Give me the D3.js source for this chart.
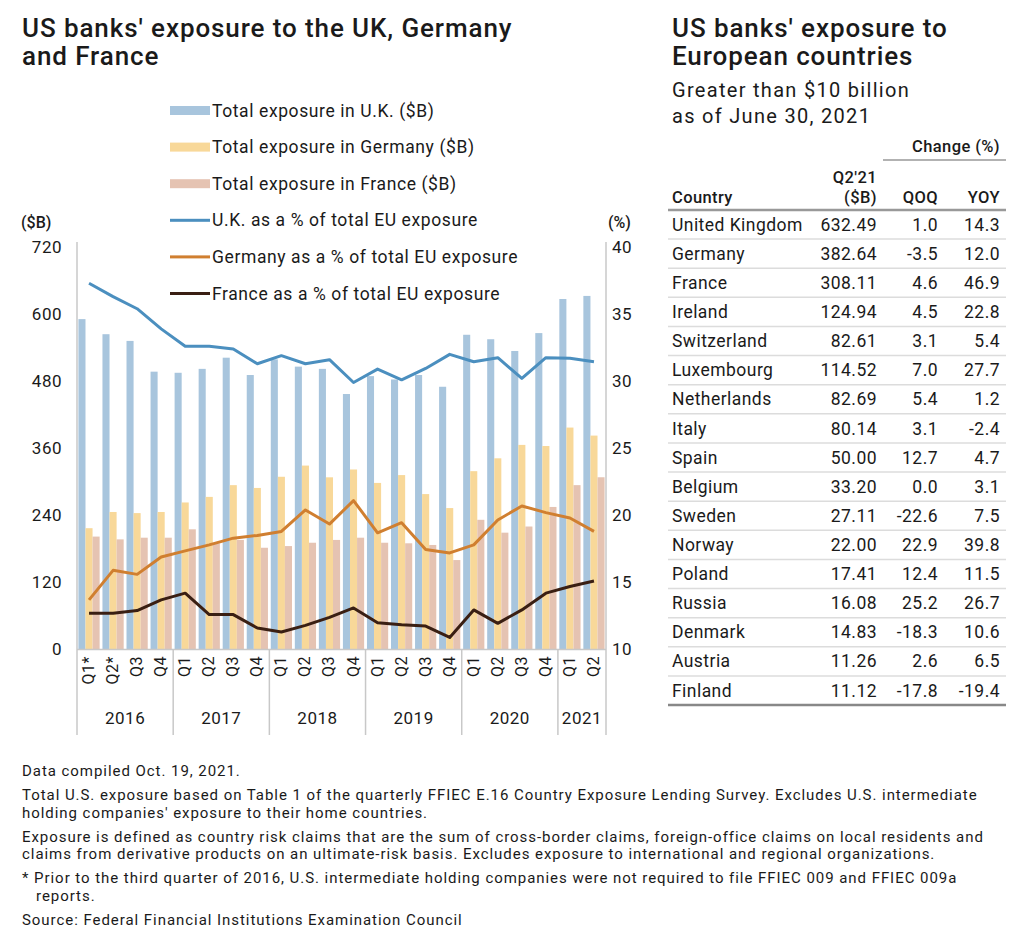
<!DOCTYPE html>
<html>
<head>
<meta charset="utf-8">
<script src="https://cdn.jsdelivr.net/npm/d3@7"></script>
<style>
  body { margin: 0; background: #fff; }
  svg text { font-family: Roboto, "Noto Sans", sans-serif; fill: #1a1a1a; }
</style>
</head>
<body>
<div id="chart"></div>
<script>
// quarters on the x axis
const quarterLabels = ["Q1*", "Q2*", "Q3", "Q4", "Q1", "Q2", "Q3", "Q4", "Q1", "Q2", "Q3", "Q4",
    "Q1", "Q2", "Q3", "Q4", "Q1", "Q2", "Q3", "Q4", "Q1", "Q2"];
const years = ["2016", "2017", "2018", "2019", "2020", "2021"];
const quartersPerYear = [4, 4, 4, 4, 4, 2];

// exposure, $B
const ukBn = [591, 564, 552, 497, 495, 502, 522, 491, 519, 506, 502, 457, 489, 483, 491, 470, 563, 555, 534, 566, 627, 632.49];
const deBn = [217, 246, 244, 246, 263, 273, 294, 289, 309, 329, 308, 322, 298, 312, 278, 253, 319, 342, 366, 364, 397, 382.64];
const frBn = [202, 197, 200, 200, 215, 190, 196, 182, 185, 191, 196, 200, 191, 190, 187, 160, 232, 209, 220, 255, 294, 308.11];

// share of total EU exposure, %
const ukPct = [37.3, 36.3, 35.4, 33.9, 32.6, 32.6, 32.4, 31.3, 31.9, 31.3, 31.6, 29.9, 30.9, 30.1, 30.95, 32.0, 31.45, 31.75, 30.2, 31.75, 31.7, 31.45];
const dePct = [13.7, 15.9, 15.6, 16.9, 17.35, 17.8, 18.3, 18.5, 18.8, 20.4, 19.35, 21.1, 18.7, 19.45, 17.45, 17.2, 17.8, 19.65, 20.7, 20.2, 19.8, 18.8];
const frPct = [12.7, 12.7, 12.9, 13.7, 14.2, 12.6, 12.6, 11.6, 11.3, 11.8, 12.4, 13.1, 12.0, 11.85, 11.75, 10.9, 12.95, 11.95, 12.95, 14.2, 14.7, 15.1];

const leftTicks = [0, 120, 240, 360, 480, 600, 720];
const rightTicks = [10, 15, 20, 25, 30, 35, 40];

// table
const countries = ["United Kingdom", "Germany", "France", "Ireland", "Switzerland", "Luxembourg", "Netherlands",
    "Italy", "Spain", "Belgium", "Sweden", "Norway", "Poland", "Russia", "Denmark", "Austria", "Finland"];
const q2Values = ["632.49", "382.64", "308.11", "124.94", "82.61", "114.52", "82.69", "80.14", "50.00", "33.20",
    "27.11", "22.00", "17.41", "16.08", "14.83", "11.26", "11.12"];
const qoq = ["1.0", "-3.5", "4.6", "4.5", "3.1", "7.0", "5.4", "3.1", "12.7", "0.0", "-22.6", "22.9", "12.4",
    "25.2", "-18.3", "2.6", "-17.8"];
const yoy = ["14.3", "12.0", "46.9", "22.8", "5.4", "27.7", "1.2", "-2.4", "4.7", "3.1", "7.5", "39.8", "11.5",
    "26.7", "10.6", "6.5", "-19.4"];

const footnotes = [
    ["Data compiled Oct. 19, 2021."],
    ["Total U.S. exposure based on Table 1 of the quarterly FFIEC E.16 Country Exposure Lending Survey. Excludes U.S. intermediate",
     "holding companies' exposure to their home countries."],
    ["Exposure is defined as country risk claims that are the sum of cross-border claims, foreign-office claims on local residents and",
     "claims from derivative products on an ultimate-risk basis. Excludes exposure to international and regional organizations."],
    ["* Prior to the third quarter of 2016, U.S. intermediate holding companies were not required to file FFIEC 009 and FFIEC 009a",
     "   reports."],
    ["Source: Federal Financial Institutions Examination Council"]
];

const colors = {
    ukBar: "#a8c5dd", deBar: "#f8d899", frBar: "#e5c3b2",
    ukLine: "#4b8fbf", deLine: "#d07f30", frLine: "#3a1f13"
};

const width = 1032, height = 946;
const svg = d3.select("#chart").append("svg")
    .attr("width", width)
    .attr("height", height);

// titles
const titleStyle = t => t.attr("font-size", 26).attr("font-weight", 500).attr("letter-spacing", 0.9);
svg.append("text").attr("x", 22).attr("y", 37).call(titleStyle).text("US banks' exposure to the UK, Germany");
svg.append("text").attr("x", 22).attr("y", 65).call(titleStyle).text("and France");
svg.append("text").attr("x", 672).attr("y", 37).call(titleStyle).text("US banks' exposure to");
svg.append("text").attr("x", 672).attr("y", 65).call(titleStyle).text("European countries");
svg.append("text").attr("x", 672).attr("y", 97).attr("font-size", 20).attr("letter-spacing", 1.3).attr("fill", "#333")
    .text("Greater than $10 billion");
svg.append("text").attr("x", 672).attr("y", 123).attr("font-size", 20).attr("letter-spacing", 1.3).attr("fill", "#333")
    .text("as of June 30, 2021");

// ---------- combo chart ----------
const plotLeft = 77, plotRight = 606, plotTop = 247, plotBottom = 649.5;
const idx = d3.range(quarterLabels.length);

const x0 = d3.scaleBand().domain(idx).range([plotLeft, plotRight]).padding(0);
const x1 = d3.scaleBand().domain(["uk", "de", "fr"]).range([0, x0.bandwidth()]).paddingOuter(0.2).paddingInner(0);
const y = d3.scaleLinear().domain([0, 720]).range([plotBottom, plotTop]);
const y2 = d3.scaleLinear().domain([10, 40]).range([plotBottom, plotTop]);

const gridColor = "#c8c8c8";

// bars
const barSeries = [
    { key: "uk", values: ukBn, color: colors.ukBar },
    { key: "de", values: deBn, color: colors.deBar },
    { key: "fr", values: frBn, color: colors.frBar }
];
barSeries.forEach(s => {
    svg.append("g").selectAll("rect")
        .data(s.values)
        .join("rect")
        .attr("x", (d, i) => x0(i) + x1(s.key))
        .attr("y", d => y(d))
        .attr("width", x1.bandwidth())
        .attr("height", d => y(0) - y(d))
        .attr("fill", s.color);
});

// lines
const lineSeries = [
    { values: ukPct, color: colors.ukLine },
    { values: dePct, color: colors.deLine },
    { values: frPct, color: colors.frLine }
];
const line = d3.line()
    .x((d, i) => x0(i) + x0.bandwidth() / 2)
    .y(d => y2(d));
lineSeries.forEach(s => {
    svg.append("path")
        .datum(s.values)
        .attr("d", line)
        .attr("fill", "none")
        .attr("stroke", s.color)
        .attr("stroke-width", 3)
        .attr("stroke-linejoin", "round");
});

// axes frame
const axisBottom = 735;
svg.append("line").attr("x1", plotLeft).attr("x2", plotRight).attr("y1", plotBottom).attr("y2", plotBottom)
    .attr("stroke", gridColor).attr("stroke-width", 1.5);
svg.append("line").attr("x1", plotLeft).attr("x2", plotLeft).attr("y1", plotTop - 5).attr("y2", axisBottom)
    .attr("stroke", gridColor).attr("stroke-width", 1.5);
svg.append("line").attr("x1", plotRight).attr("x2", plotRight).attr("y1", plotTop - 5).attr("y2", axisBottom)
    .attr("stroke", gridColor).attr("stroke-width", 1.5);

// y axes
svg.append("g")
    .attr("transform", `translate(${plotLeft - 15},0)`)
    .call(d3.axisLeft(y).tickValues(leftTicks).tickSize(0).tickPadding(0))
    .call(g => g.select(".domain").remove())
    .call(g => g.selectAll("text").attr("font-size", 17).attr("letter-spacing", 0.5).attr("fill", "#1a1a1a")
        .style("font-family", "Roboto, sans-serif"));
svg.append("g")
    .attr("transform", `translate(${plotRight + 6},0)`)
    .call(d3.axisRight(y2).tickValues(rightTicks).tickSize(0).tickPadding(0))
    .call(g => g.select(".domain").remove())
    .call(g => g.selectAll("text").attr("font-size", 17).attr("letter-spacing", 0.5).attr("fill", "#1a1a1a")
        .style("font-family", "Roboto, sans-serif"));
svg.append("text").attr("x", 21).attr("y", 228).attr("font-size", 16).attr("font-weight", 500).text("($B)");
svg.append("text").attr("x", 608).attr("y", 228).attr("font-size", 16).attr("font-weight", 500).text("(%)");

// quarter labels (rotated)
svg.append("g").selectAll("text")
    .data(quarterLabels)
    .join("text")
    .attr("transform", (d, i) => `translate(${x0(i) + x0.bandwidth() / 2 + 5},656) rotate(-90)`)
    .attr("text-anchor", "end")
    .attr("font-size", 16)
    .attr("letter-spacing", 0.5)
    .text(d => d);

// year labels and separators
let start = 0;
years.forEach((yr, j) => {
    const n = quartersPerYear[j];
    const xa = x0(start), xb = x0(start + n - 1) + x0.bandwidth();
    svg.append("text").attr("x", (xa + xb) / 2).attr("y", 724)
        .attr("text-anchor", "middle").attr("font-size", 17).attr("letter-spacing", 0.5).text(yr);
    if (j > 0) {
        svg.append("line").attr("x1", xa).attr("x2", xa).attr("y1", plotBottom).attr("y2", axisBottom)
            .attr("stroke", gridColor).attr("stroke-width", 1.5);
    }
    start += n;
});

// legend
const legendItems = [
    { label: "Total exposure in U.K. ($B)", color: colors.ukBar, type: "bar" },
    { label: "Total exposure in Germany ($B)", color: colors.deBar, type: "bar" },
    { label: "Total exposure in France ($B)", color: colors.frBar, type: "bar" },
    { label: "U.K. as a % of total EU exposure", color: colors.ukLine, type: "line" },
    { label: "Germany as a % of total EU exposure", color: colors.deLine, type: "line" },
    { label: "France as a % of total EU exposure", color: colors.frLine, type: "line" }
];
const legend = svg.append("g").selectAll("g")
    .data(legendItems)
    .join("g")
    .attr("transform", (d, i) => `translate(170,${110.5 + i * 36.6})`);
legend.append("rect")
    .attr("x", 0).attr("width", 40)
    .attr("y", d => d.type === "bar" ? -4.5 : -1.5)
    .attr("height", d => d.type === "bar" ? 9 : 3)
    .attr("fill", d => d.color);
legend.append("text")
    .attr("x", 42).attr("dy", "0.35em").attr("font-size", 17.5).attr("letter-spacing", 0.6)
    .text(d => d.label);

// ---------- table ----------
const colCountry = 672, colQ2 = 877, colQoq = 938, colYoy = 1000;
const rowY = d3.scaleBand().domain(countries).range([210, 705]);

svg.append("text").attr("x", colYoy).attr("y", 146).attr("dy", "0.35em").attr("text-anchor", "end")
    .attr("font-size", 16.5).attr("letter-spacing", 0.4).attr("font-weight", 500).text("Change (%)");
svg.append("line").attr("x1", 883).attr("x2", 1006).attr("y1", 160).attr("y2", 160)
    .attr("stroke", "#999").attr("stroke-width", 1.5);

const head = svg.append("g").attr("font-size", 16.5).attr("letter-spacing", 0.4).attr("font-weight", 500);
head.append("text").attr("x", colCountry).attr("y", 197).attr("dy", "0.35em").text("Country");
head.append("text").attr("x", colQ2).attr("y", 177).attr("dy", "0.35em").attr("text-anchor", "end").text("Q2'21");
head.append("text").attr("x", colQ2).attr("y", 197).attr("dy", "0.35em").attr("text-anchor", "end").text("($B)");
head.append("text").attr("x", colQoq).attr("y", 197).attr("dy", "0.35em").attr("text-anchor", "end").text("QOQ");
head.append("text").attr("x", colYoy).attr("y", 197).attr("dy", "0.35em").attr("text-anchor", "end").text("YOY");

const rows = svg.append("g").selectAll("g")
    .data(countries)
    .join("g")
    .attr("transform", d => `translate(0,${rowY(d) + rowY.bandwidth() / 2})`);
rows.filter((d, i) => i < countries.length - 1).append("line")
    .attr("x1", 668).attr("x2", 1006)
    .attr("y1", rowY.bandwidth() / 2).attr("y2", rowY.bandwidth() / 2)
    .attr("stroke", "#dcdcdc").attr("stroke-width", 1.5);
const cell = t => t.attr("dy", "0.35em").attr("font-size", 17.5).attr("letter-spacing", 0.45);
rows.append("text").attr("x", colCountry).call(cell).text(d => d);
rows.append("text").attr("x", colQ2).call(cell).attr("text-anchor", "end").text((d, i) => q2Values[i]);
rows.append("text").attr("x", colQoq).call(cell).attr("text-anchor", "end").text((d, i) => qoq[i]);
rows.append("text").attr("x", colYoy).call(cell).attr("text-anchor", "end").text((d, i) => yoy[i]);

svg.append("line").attr("x1", 668).attr("x2", 1006).attr("y1", 210).attr("y2", 210)
    .attr("stroke", "#999").attr("stroke-width", 2.5);
svg.append("line").attr("x1", 668).attr("x2", 1006).attr("y1", 705).attr("y2", 705)
    .attr("stroke", "#888").attr("stroke-width", 2.5);

// ---------- footnotes ----------
let fy = 776;
const notes = svg.append("g").attr("font-size", 15).attr("letter-spacing", 0.95);
footnotes.forEach(para => {
    para.forEach(ln => {
        notes.append("text").attr("x", 22).attr("y", fy).attr("xml:space", "preserve").text(ln);
        fy += 17.5;
    });
    fy += 6.5;
});
</script>
</body>
</html>
